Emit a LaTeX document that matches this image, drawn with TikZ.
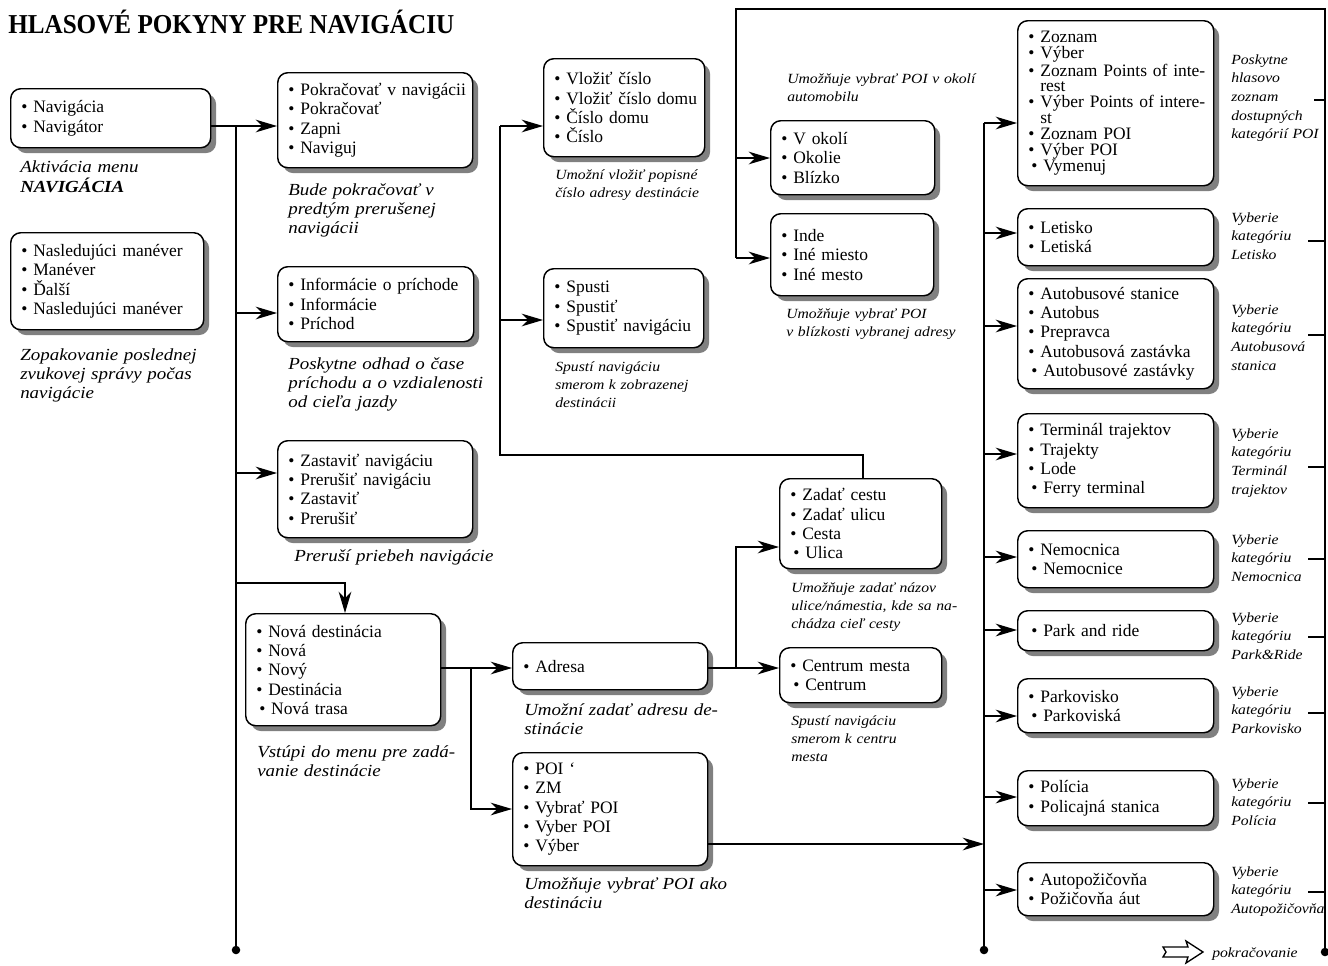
\documentclass[tikz,border=0pt]{standalone}
\usepackage{fontspec}
\setmainfont{Liberation Serif}
\newfontfamily\capfont[FakeStretch=1.12]{Liberation Serif}
\newfontfamily\titlefont[FakeStretch=0.92]{Liberation Serif}
\usetikzlibrary{arrows.meta,shadows}
\setlength{\lineskiplimit}{-50pt}
\newcommand\boxfont{\fontsize{13.1}{14.5}\selectfont}
\newcommand\capbig{\capfont\itshape\fontsize{12.7}{14.25}\selectfont}
\newcommand\capsmall{\capfont\itshape\fontsize{10.5}{13.5}\selectfont}
\newcommand\capright{\capfont\itshape\fontsize{10.5}{14}\selectfont}
\newcommand\bl[1]{\mbox{•\ #1}}
\newcommand\bli[1]{\mbox{\,•\ #1}}
\newcommand\hang[1]{\mbox{\phantom{•\ }#1}}
\newcommand\bx[7][]{\node[box,#1,anchor=north west,
  minimum width={(#5-#3)*0.75pt}, minimum height={(#6-#4)*0.75pt},
  text width={(#5-#3)*0.75pt-16pt}] (#2) at (#3,#4) {#7};}
\tikzset{
  box/.style={draw, line width=1.1pt, rounded corners=7.5pt, fill=white,
    inner xsep=8pt, inner ysep=0pt, align=left, font=\boxfont,
    general shadow={fill=black!50, shadow xshift=4pt, shadow yshift=-4pt}},
  capt/.style={inner sep=0pt, anchor=base west, align=left, text width=220pt, font=\capbig},
  capts/.style={capt, font=\capsmall},
  captr/.style={capt, font=\capright},
  ln/.style={line width=1pt},
  arr/.style={line width=1pt, -{Stealth[length=16pt,width=9.5pt,inset=5pt]}},
  dotfill/.style={fill=black},
}
\begin{document}
\begin{tikzpicture}[x=0.75pt,y=-0.75pt]
\fill[white] (0,0) rectangle (1328,965);
\useasboundingbox (0,0) rectangle (1328,965);

\node[anchor=base west, inner sep=0pt, font=\titlefont\fontsize{20.5}{22}\selectfont\bfseries] (title) at (8,33) {HLASOVÉ POKYNY PRE NAVIGÁCIU};

% ---------- boxes ----------
\bx{A}{10}{88}{210}{147}{\bl{Navigácia}\\\bl{Navigátor}}
\bx{B}{10}{232}{203}{329}{\bl{Nasledujúci manéver}\\\bl{Manéver}\\\bl{Ďalší}\\\bl{Nasledujúci manéver}}
\bx{C}{277}{72}{472}{167}{\bl{Pokračovať v navigácii}\\\bl{Pokračovať}\\\bl{Zapni}\\\bl{Naviguj}}
\bx{D}{277}{266}{473}{341}{\bl{Informácie o príchode}\\\bl{Informácie}\\\bl{Príchod}}
\bx{E}{277}{440}{472}{537}{\bl{Zastaviť navigáciu}\\\bl{Prerušiť navigáciu}\\\bl{Zastaviť}\\\bl{Prerušiť}}
\bx{F}{245}{613}{440}{725}{\bl{Nová destinácia}\\\bl{Nová}\\\bl{Nový}\\\bl{Destinácia}\\\bli{Nová trasa}}
\bx{G}{512}{642}{707}{689}{\bl{Adresa}}
\bx{H}{512}{752}{707}{865}{\bl{POI ‘}\\\bl{ZM}\\\bl{Vybrať POI}\\\bl{Vyber POI}\\\bl{Výber}}
\bx{I}{779}{478}{941}{568}{\bl{Zadať cestu}\\\bl{Zadať ulicu}\\\bl{Cesta}\\\bli{Ulica}}
\bx{J}{779}{647}{941}{702}{\bl{Centrum mesta}\\\bli{Centrum}}
\bx{K}{543}{58}{704}{156}{\bl{Vložiť číslo}\\\bl{Vložiť číslo domu}\\\bl{Číslo domu}\\\bl{Číslo}}
\bx{L}{543}{268}{703}{347}{\bl{Spusti}\\\bl{Spustiť}\\\bl{Spustiť navigáciu}}
\bx{M}{770}{120}{934}{194}{\bl{V okolí}\\\bl{Okolie}\\\bl{Blízko}}
\bx{N}{770}{213}{933}{295}{\bl{Inde}\\\bl{Iné miesto}\\\bl{Iné mesto}}
\bx[font=\fontsize{13.1}{11.9}\selectfont]{O}{1017}{20}{1213}{185}{\bl{Zoznam}\\\bl{Výber}\\\bl{Zoznam Points of inte-}\\\hang{rest}\\\bl{Výber Points of intere-}\\\hang{st}\\\bl{Zoznam POI}\\\bl{Výber POI}\\\bli{Vymenuj}}
\bx{P1}{1017}{208}{1213}{265}{\bl{Letisko}\\\bl{Letiská}}
\bx{P2}{1017}{278}{1213}{388}{\bl{Autobusové stanice}\\\bl{Autobus}\\\bl{Prepravca}\\\bl{Autobusová zastávka}\\\bli{Autobusové zastávky}}
\bx{P3}{1017}{413}{1213}{507}{\bl{Terminál trajektov}\\\bl{Trajekty}\\\bl{Lode}\\\bli{Ferry terminal}}
\bx{P4}{1017}{530}{1213}{587}{\bl{Nemocnica}\\\bli{Nemocnice}}
\bx{P5}{1017}{610}{1213}{650}{\bli{Park and ride}}
\bx{P6}{1017}{678}{1213}{732}{\bl{Parkovisko}\\\bli{Parkoviská}}
\bx{P7}{1017}{770}{1213}{825}{\bl{Polícia}\\\bl{Policajná stanica}}
\bx{P8}{1017}{862}{1213}{915}{\bl{Autopožičovňa}\\\bl{Požičovňa áut}}

% ---------- captions ----------
\node[capt] (cA) at (20,172) {Aktivácia menu\\[1pt]{\bfseries NAVIGÁCIA}};
\node[capt] (cB) at (20,360) {Zopakovanie poslednej\\zvukovej správy počas\\navigácie};
\node[capt] (cC) at (288,195) {Bude pokračovať v\\predtým prerušenej\\navigácii};
\node[capt] (cD) at (288,369) {Poskytne odhad o čase\\príchodu a o vzdialenosti\\od cieľa jazdy};
\node[capt] (cE) at (294,561) {Preruší priebeh navigácie};
\node[capt] (cF) at (257,757) {Vstúpi do menu pre zadá-\\vanie destinácie};
\node[capt] (cG) at (524,715) {Umožní zadať adresu de-\\stinácie};
\node[capt] (cH) at (524,889) {Umožňuje vybrať POI ako\\destináciu};
\node[capts] (cI) at (791,592) {Umožňuje zadať názov\\ulice/námestia, kde sa na-\\chádza cieľ cesty};
\node[capts] (cJ) at (791,725) {Spustí navigáciu\\smerom k centru\\mesta};
\node[capts] (cK) at (555,179) {Umožní vložiť popisné\\číslo adresy destinácie};
\node[capts] (cL) at (555,371) {Spustí navigáciu\\smerom k zobrazenej\\destinácii};
\node[capts] (cM) at (787,83) {Umožňuje vybrať POI v okolí\\automobilu};
\node[capts] (cN) at (786,318) {Umožňuje vybrať POI\\v blízkosti vybranej adresy};
\node[captr] (cO) at (1231,64) {Poskytne\\hlasovo\\zoznam\\dostupných\\kategórií POI};
\node[captr] (cP1) at (1231,222) {Vyberie\\kategóriu\\Letisko};
\node[captr] (cP2) at (1231,314) {Vyberie\\kategóriu\\Autobusová\\stanica};
\node[captr] (cP3) at (1231,438) {Vyberie\\kategóriu\\Terminál\\trajektov};
\node[captr] (cP4) at (1231,544) {Vyberie\\kategóriu\\Nemocnica};
\node[captr] (cP5) at (1231,622) {Vyberie\\kategóriu\\Park\&Ride};
\node[captr] (cP6) at (1231,696) {Vyberie\\kategóriu\\Parkovisko};
\node[captr] (cP7) at (1231,788) {Vyberie\\kategóriu\\Polícia};
\node[captr] (cP8) at (1231,876) {Vyberie\\kategóriu\\Autopožičovňa};
\node[captr] (cont) at (1212,957) {pokračovanie};

% ---------- junction coordinates ----------
\coordinate (t1top) at (236,126);
\coordinate (t1bot) at (236,950);
\coordinate (jD) at (236,313);
\coordinate (jE) at (236,473);
\coordinate (jF) at (236,583);
\coordinate (jFx) at (345,583);
\coordinate (jFG) at (471,668);
\coordinate (jH) at (471,809);
\coordinate (jG) at (736,668);
\coordinate (jI) at (736,547);
\coordinate (lp1) at (863,455);
\coordinate (lp2) at (500,455);
\coordinate (jK) at (500,126);
\coordinate (jL) at (500,320);
\coordinate (rtop) at (1325,9);
\coordinate (rbot) at (1325,952);
\coordinate (ltop) at (736,9);
\coordinate (jM) at (736,158);
\coordinate (jN) at (736,258);
\coordinate (rt1) at (984,123);
\coordinate (rt2) at (984,950);
\coordinate (jHR) at (984,844);

% ---------- connectors ----------
\draw[ln] (t1top) -- (t1bot);
\draw[arr] (A.east |- t1top) -- (C.west |- t1top);
\draw[arr] (jD) -- (D.west |- jD);
\draw[arr] (jE) -- (E.west |- jE);
\draw[arr] (jF) -- (jFx) -- (jFx |- F.north);
\draw[arr] (F.east |- jFG) -- (G.west |- jFG);
\draw[arr] (jFG) -- (jH) -- (H.west |- jH);
\draw[arr] (G.east |- jG) -- (J.west |- jG);
\draw[arr] (jG) -- (jI) -- (I.west |- jI);
\draw[ln] (lp1 |- I.north) -- (lp1) -- (lp2) -- (jK);
\draw[arr] (jK) -- (K.west |- jK);
\draw[arr] (jL) -- (L.west |- jL);
\draw[ln] (rbot) -- (rtop) -- (ltop) -- (jN);
\draw[arr] (jM) -- (M.west |- jM);
\draw[arr] (jN) -- (N.west |- jN);
\draw[ln] (rt1) -- (rt2);
\draw[arr] (H.east |- jHR) -- (jHR);
\foreach \b/\y in {O/123,P1/233,P2/326,P3/454,P4/557,P5/630,P6/716,P7/797,P8/890}{
  \draw[arr] (rt1 |- 0,\y) -- (\b.west |- 0,\y);
}
\draw[ln] (1314,100) -- (rtop |- 0,100);
\foreach \y in {241,335,467,559,637,713,803,892}{
  \draw[ln] (1308,\y) -- (rtop |- 0,\y);
}
\fill[dotfill] (t1bot) circle (3.2pt);
\fill[dotfill] (rt2) circle (3.2pt);
\fill[dotfill] (rbot) circle (3.2pt);
% outlined continuation arrow
\draw[line width=1pt, line join=miter] (1163,947) -- (1188,947) -- (1186,941) -- (1203,952) -- (1186,963) -- (1188,957) -- (1163,957) -- (1166,952) -- cycle;
\end{tikzpicture}
\end{document}
